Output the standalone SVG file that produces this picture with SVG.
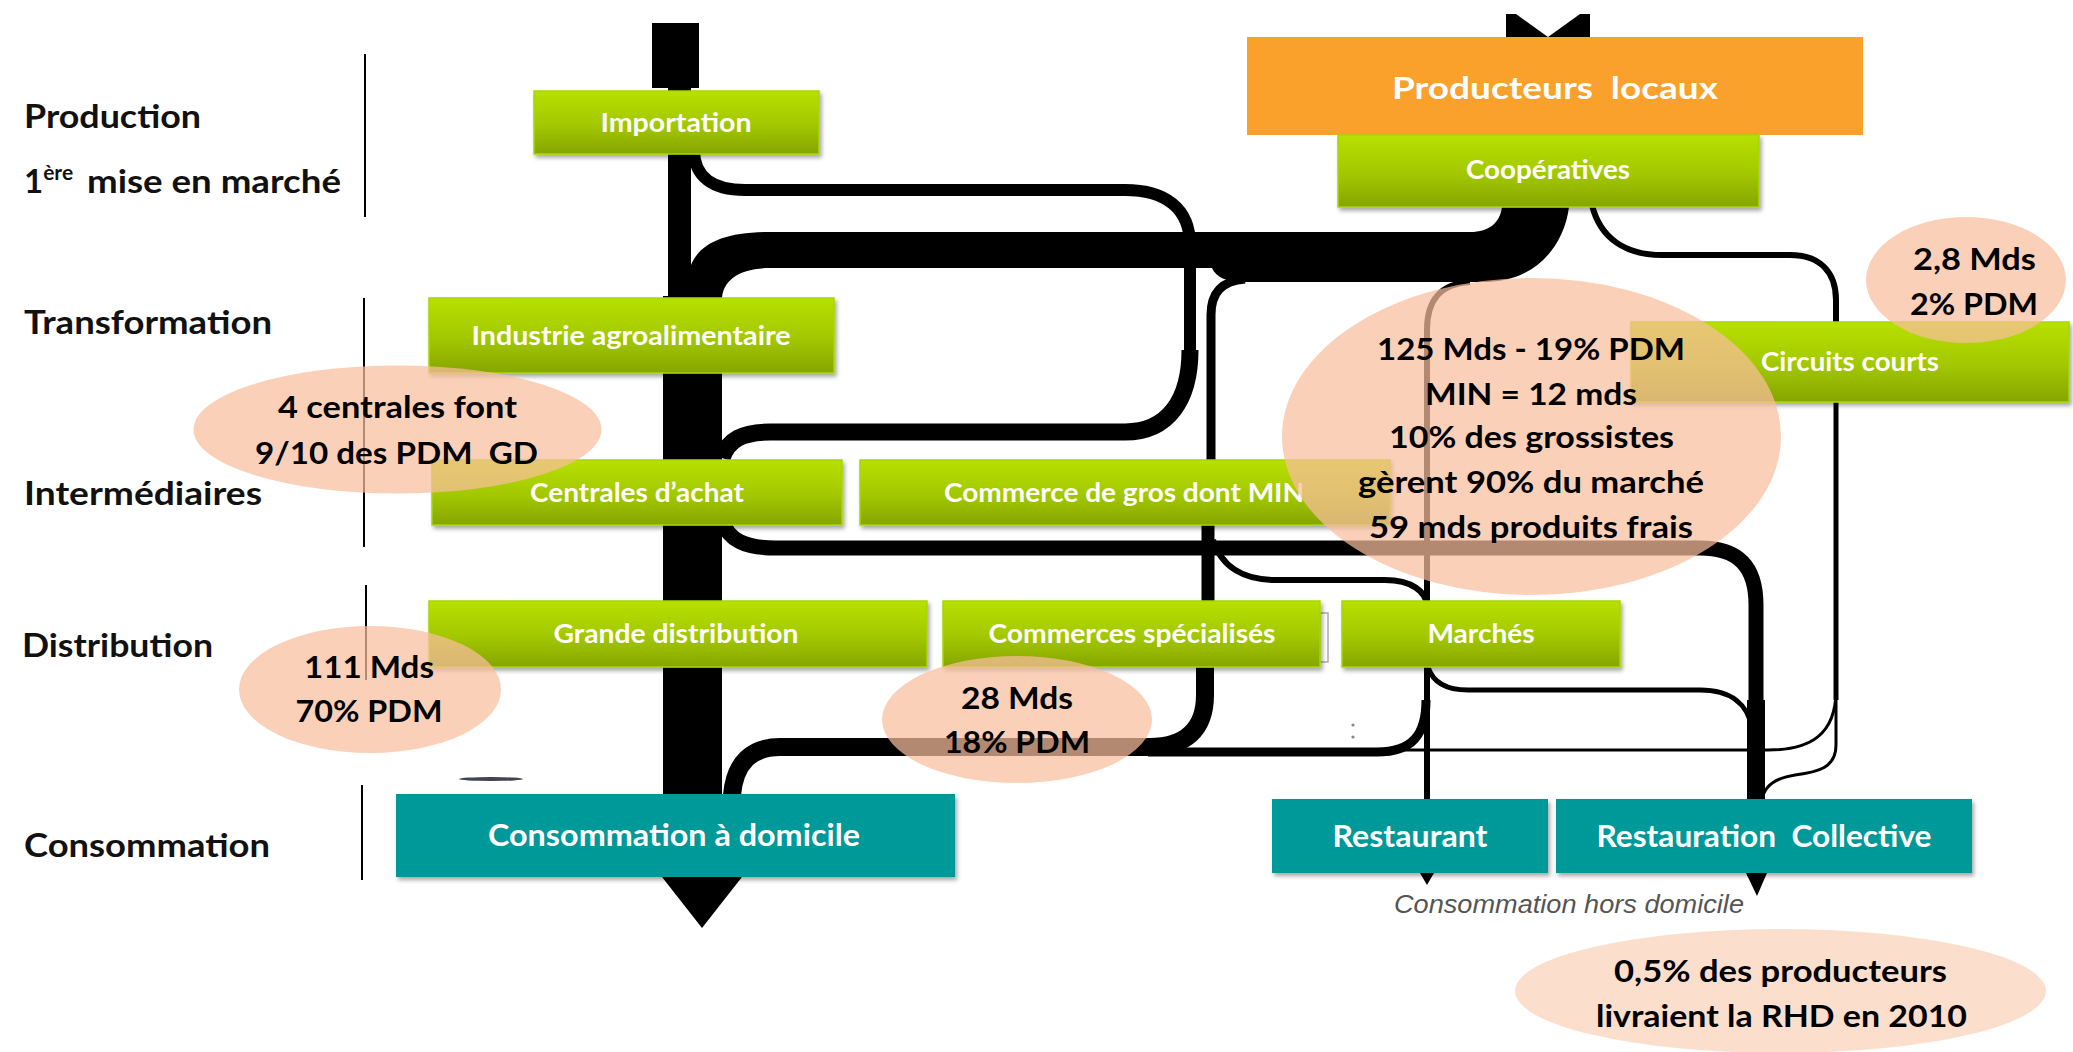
<svg xmlns="http://www.w3.org/2000/svg" width="2073" height="1052" viewBox="0 0 2073 1052">
<defs>
<linearGradient id="gg" x1="0" y1="0" x2="0" y2="1">
<stop offset="0" stop-color="#b8e000"/>
<stop offset="0.55" stop-color="#a2c700"/>
<stop offset="1" stop-color="#86a500"/>
</linearGradient>
<filter id="sh" x="-5%" y="-10%" width="115%" height="135%">
<feDropShadow dx="2" dy="3" stdDeviation="2" flood-color="#000" flood-opacity="0.35"/>
</filter>
<style>
.lbl{font-family:Lato,"Liberation Sans",sans-serif;font-weight:700;font-size:33px;fill:#111}
.nt{font-family:Lato,"Liberation Sans",sans-serif;font-weight:700;font-size:26px;fill:#fff;text-anchor:middle}
.tt{font-family:Lato,"Liberation Sans",sans-serif;font-weight:700;font-size:30px;fill:#fff;text-anchor:middle}
.et{font-family:Lato,"Liberation Sans",sans-serif;font-weight:700;font-size:30px;fill:#000;text-anchor:middle}
.green{fill:url(#gg);stroke:#a8d600;stroke-width:1.5;filter:url(#sh)}
.teal{fill:#009999;filter:url(#sh)}
.ell{fill:#f9be9c;fill-opacity:0.72}
.flow{fill:none;stroke:#000;stroke-linecap:butt}
.sep{stroke:#000;stroke-width:2}
</style>
</defs>
<rect width="2073" height="1052" fill="#fff"/>

<g id="stage-labels">
<text class="lbl" x="24" y="128" textLength="177" lengthAdjust="spacingAndGlyphs">Production</text>
<text class="lbl" x="24" y="193">1<tspan font-size="21" dy="-13">ère </tspan><tspan x="87" dy="13" textLength="254" lengthAdjust="spacingAndGlyphs">mise en marché</tspan></text>
<text class="lbl" x="24" y="334" textLength="248" lengthAdjust="spacingAndGlyphs">Transformation</text>
<text class="lbl" x="24" y="505" textLength="238" lengthAdjust="spacingAndGlyphs">Intermédiaires</text>
<text class="lbl" x="22" y="657" textLength="191" lengthAdjust="spacingAndGlyphs">Distribution</text>
<text class="lbl" x="24" y="857" textLength="246" lengthAdjust="spacingAndGlyphs">Consommation</text>
<line class="sep" x1="365" y1="54" x2="365" y2="217"/>
<line class="sep" x1="364" y1="298" x2="364" y2="547"/>
<line class="sep" x1="366" y1="585" x2="366" y2="680"/>
<line class="sep" x1="362" y1="785" x2="362" y2="880"/>
</g>

<g id="connectors">
<!-- main trunk -->
<rect x="652" y="23" width="47" height="65" fill="#000"/>
<rect x="668" y="85" width="23" height="215" fill="#000"/>
<rect x="663" y="296" width="59" height="582" fill="#000"/>
<polygon points="662,877 742,877 702,928" fill="#000"/>
<!-- band from cooperatives -->
<path d="M691 265 C700 243 725 232 770 232 L1470 232 C1490 232 1500 222 1502 207 L1569 207 C1563 252 1530 282 1485 282 L1245 282 C1226 282 1216 277 1212 268 L770 268 C740 268 722 280 722 300 L691 300 Z" fill="#000"/>
<!-- importation loop -->
<path class="flow" stroke-width="12" d="M694 150 C694 176 712 190 745 190 L1125 190 C1165 190 1190 208 1190 245 L1190 362"/>
<path class="flow" stroke-width="17" d="M1190 350 C1190 400 1168 432 1125 432 L770 432 C742 432 728 440 722 458"/>
<!-- band branch to commerce de gros -->
<path class="flow" stroke-width="9" d="M1245 279 C1222 281 1211 292 1211 315 L1211 462"/>
<path class="flow" stroke-width="13" d="M1208 520 L1208 605"/>
<!-- 28 Mds line -->
<path class="flow" stroke-width="18" d="M1205 664 L1205 695 C1205 730 1185 747 1150 747 L780 747 C752 747 735 762 732 795"/>
<!-- marches to domicile -->
<path class="flow" stroke-width="9" d="M1148 752 L1377 752 C1412 752 1426 735 1426 700"/>
<!-- band branch to marches / restaurant -->
<path class="flow" stroke-width="6" d="M1470 282 C1440 284 1427 300 1427 330 L1427 876"/>
<polygon points="1420,873 1434,873 1427,885" fill="#000"/>
<!-- commerce de gros to marches -->
<path class="flow" stroke-width="6" d="M1213 540 C1222 568 1245 580 1275 580 L1385 580 C1412 580 1426 592 1427 605"/>
<!-- centrales to restauration collective -->
<path class="flow" stroke-width="15" d="M722 520 C728 540 745 548 775 548 L1700 548 C1738 548 1756 566 1756 605 L1756 876"/>
<path class="flow" stroke-width="18" d="M1756 700 L1756 876"/>
<polygon points="1746,873 1767,873 1757,896" fill="#000"/>
<!-- marches to restauration collective -->
<path class="flow" stroke-width="5" d="M1428 667 C1433 683 1447 690 1468 690 L1700 690 C1732 690 1748 705 1752 728"/>
<!-- cooperatives to circuits courts -->
<path class="flow" stroke-width="6" d="M1592 205 C1600 238 1625 255 1662 255 L1790 255 C1820 255 1836 272 1836 300 L1836 325"/>
<path class="flow" stroke-width="5" d="M1836 400 L1836 700"/>
<path class="flow" stroke-width="3" stroke="#555" d="M1836 690 C1836 735 1810 750 1768 750 L1300 750"/>
<path class="flow" stroke-width="3" d="M1836 690 L1836 745 C1836 768 1818 772 1795 775 C1775 778 1764 786 1762 800"/>
<!-- producteurs tail -->
<path d="M1506 14 L1516 14 L1548 37 L1580 14 L1590 14 L1590 37 L1506 37 Z" fill="#000"/>
<!-- scan artifacts -->
<ellipse cx="491" cy="779" rx="32" ry="2" fill="#223" opacity="0.85"/>
<circle cx="1353" cy="725" r="1.6" fill="#888"/>
<circle cx="1353" cy="737" r="1.6" fill="#888"/>
</g>

<g id="node-producteurs">
<rect x="1247" y="37" width="616" height="98" fill="#f9a12b"/>
<text class="tt" x="1555" y="99" font-size="33" textLength="326" lengthAdjust="spacingAndGlyphs">Producteurs&#160; locaux</text>
</g>
<g id="node-importation">
<rect class="green" x="534" y="91" width="285" height="63"/>
<text class="nt" x="676" y="132" textLength="151" lengthAdjust="spacingAndGlyphs">Importation</text>
</g>
<g id="node-cooperatives">
<rect class="green" x="1338" y="135" width="421" height="72"/>
<text class="nt" x="1548" y="179" textLength="164" lengthAdjust="spacingAndGlyphs">Coopératives</text>
</g>
<g id="node-industrie">
<rect class="green" x="429" y="298" width="405" height="75"/>
<text class="nt" x="631" y="345" textLength="319" lengthAdjust="spacingAndGlyphs">Industrie agroalimentaire</text>
</g>
<g id="node-circuits">
<rect class="green" x="1631" y="322" width="438" height="80"/>
<text class="nt" x="1850" y="371" textLength="178" lengthAdjust="spacingAndGlyphs">Circuits courts</text>
</g>
<g id="node-centrales">
<rect class="green" x="432" y="460" width="410" height="65"/>
<text class="nt" x="637" y="502" textLength="214" lengthAdjust="spacingAndGlyphs">Centrales d’achat</text>
</g>
<g id="node-gros">
<rect class="green" x="860" y="460" width="530" height="65"/>
<text class="nt" x="1124" y="502" textLength="360" lengthAdjust="spacingAndGlyphs">Commerce de gros dont MIN</text>
</g>
<g id="node-gd">
<rect class="green" x="429" y="601" width="498" height="66"/>
<text class="nt" x="676" y="643" textLength="245" lengthAdjust="spacingAndGlyphs">Grande distribution</text>
</g>
<g id="node-specialises">
<rect x="1320" y="613" width="8" height="49" fill="#fff" stroke="#aaa" stroke-width="1.5"/>
<rect class="green" x="943" y="601" width="377" height="66"/>
<text class="nt" x="1132" y="643" textLength="287" lengthAdjust="spacingAndGlyphs">Commerces spécialisés</text>
</g>
<g id="node-marches">
<rect class="green" x="1342" y="601" width="278" height="66"/>
<text class="nt" x="1481" y="643" textLength="107" lengthAdjust="spacingAndGlyphs">Marchés</text>
</g>
<g id="node-domicile">
<rect class="teal" x="396" y="794" width="559" height="83"/>
<text class="tt" x="674" y="846" textLength="372" lengthAdjust="spacingAndGlyphs">Consommation à domicile</text>
</g>
<g id="node-restaurant">
<rect class="teal" x="1272" y="799" width="276" height="74"/>
<text class="tt" x="1410" y="847" textLength="155" lengthAdjust="spacingAndGlyphs">Restaurant</text>
</g>
<g id="node-collective">
<rect class="teal" x="1556" y="799" width="416" height="74"/>
<text class="tt" x="1764" y="847" textLength="335" lengthAdjust="spacingAndGlyphs">Restauration&#160; Collective</text>
</g>
<text x="1394" y="913" font-family="'Liberation Sans',Arial,sans-serif" font-style="italic" font-size="25" fill="#555" textLength="350" lengthAdjust="spacingAndGlyphs">Consommation hors domicile</text>

<g id="note-centrales">
<ellipse class="ell" cx="397.5" cy="429.5" rx="204" ry="64"/>
<text class="et" x="397.5" y="418" textLength="239" lengthAdjust="spacingAndGlyphs">4 centrales font</text>
<text class="et" x="396.5" y="464" textLength="283" lengthAdjust="spacingAndGlyphs">9/10 des PDM&#160; GD</text>
</g>
<g id="note-gd">
<ellipse class="ell" cx="370" cy="689.5" rx="131" ry="63.5"/>
<text class="et" x="369" y="678" textLength="130" lengthAdjust="spacingAndGlyphs">111 Mds</text>
<text class="et" x="369" y="722" textLength="147" lengthAdjust="spacingAndGlyphs">70% PDM</text>
</g>
<g id="note-specialises">
<ellipse class="ell" cx="1017" cy="719.5" rx="135" ry="63.5"/>
<text class="et" x="1017" y="709" textLength="112" lengthAdjust="spacingAndGlyphs">28 Mds</text>
<text class="et" x="1017" y="753" textLength="146" lengthAdjust="spacingAndGlyphs">18% PDM</text>
</g>
<g id="note-gros">
<ellipse class="ell" cx="1531.5" cy="436.5" rx="249.5" ry="158.5"/>
<text class="et" x="1531" y="360" textLength="308" lengthAdjust="spacingAndGlyphs">125 Mds - 19% PDM</text>
<text class="et" x="1531" y="405" textLength="212" lengthAdjust="spacingAndGlyphs">MIN = 12 mds</text>
<text class="et" x="1531.5" y="448" textLength="285" lengthAdjust="spacingAndGlyphs">10% des grossistes</text>
<text class="et" x="1531" y="493" textLength="346" lengthAdjust="spacingAndGlyphs">gèrent 90% du marché</text>
<text class="et" x="1531" y="538" textLength="324" lengthAdjust="spacingAndGlyphs">59 mds produits frais</text>
</g>
<g id="note-circuits">
<ellipse class="ell" cx="1966" cy="280" rx="100" ry="63"/>
<text class="et" x="1974.5" y="270" textLength="123" lengthAdjust="spacingAndGlyphs">2,8 Mds</text>
<text class="et" x="1974" y="315" textLength="128" lengthAdjust="spacingAndGlyphs">2% PDM</text>
</g>
<g id="note-rhd">
<ellipse cx="1780.5" cy="991" rx="265.5" ry="62" fill="#f9be9c" fill-opacity="0.5"/>
<text class="et" x="1780.5" y="982" textLength="333" lengthAdjust="spacingAndGlyphs">0,5% des producteurs</text>
<text class="et" x="1781.5" y="1027" textLength="371" lengthAdjust="spacingAndGlyphs">livraient la RHD en 2010</text>
</g>
</svg>
